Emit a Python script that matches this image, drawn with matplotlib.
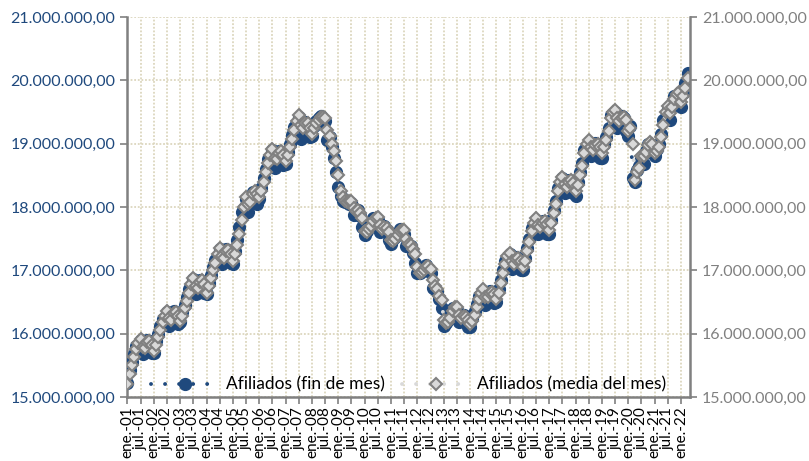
import numpy as np
import matplotlib.pyplot as plt
from matplotlib.ticker import FuncFormatter, MultipleLocator

plt.rcParams['font.family'] = ['Lato', 'DejaVu Sans']

# afiliados (millones), mensual ene-01 .. abr-22
media_mes = [
    15.20, 15.36, 15.50, 15.63, 15.75, 15.86, 15.92, 15.79, 15.78, 15.87, 15.89, 15.82,  # 2001
    15.72, 15.82, 15.95, 16.06, 16.18, 16.28, 16.36, 16.24, 16.22, 16.32, 16.34, 16.28,  # 2002
    16.20, 16.28, 16.40, 16.52, 16.65, 16.78, 16.88, 16.75, 16.72, 16.82, 16.84, 16.78,  # 2003
    16.65, 16.75, 16.88, 17.00, 17.12, 17.25, 17.35, 17.22, 17.20, 17.30, 17.32, 17.26,  # 2004
    17.15, 17.25, 17.40, 17.58, 17.80, 18.00, 18.15, 18.05, 18.08, 18.20, 18.25, 18.20,  # 2005
    18.15, 18.25, 18.40, 18.55, 18.70, 18.82, 18.92, 18.78, 18.76, 18.86, 18.88, 18.82,  # 2006
    18.72, 18.82, 18.95, 19.08, 19.22, 19.35, 19.46, 19.30, 19.25, 19.32, 19.33, 19.25,  # 2007
    19.15, 19.25, 19.32, 19.37, 19.42, 19.42, 19.40, 19.22, 19.12, 19.00, 18.88, 18.72,  # 2008
    18.50, 18.25, 18.15, 18.10, 18.08, 18.10, 18.10, 17.98, 17.93, 17.95, 17.90, 17.82,  # 2009
    17.62, 17.60, 17.65, 17.70, 17.78, 17.82, 17.84, 17.72, 17.65, 17.68, 17.67, 17.60,  # 2010
    17.48, 17.47, 17.50, 17.55, 17.62, 17.64, 17.63, 17.50, 17.42, 17.40, 17.33, 17.25,  # 2011
    17.05, 16.95, 16.97, 17.00, 17.05, 17.07, 17.02, 16.85, 16.75, 16.70, 16.60, 16.53,  # 2012
    16.22, 16.17, 16.19, 16.25, 16.35, 16.42, 16.42, 16.30, 16.25, 16.28, 16.27, 16.22,  # 2013
    16.15, 16.20, 16.30, 16.42, 16.55, 16.65, 16.70, 16.58, 16.58, 16.64, 16.66, 16.62,  # 2014
    16.55, 16.65, 16.80, 16.95, 17.10, 17.22, 17.27, 17.15, 17.10, 17.18, 17.20, 17.15,  # 2015
    17.05, 17.15, 17.30, 17.45, 17.62, 17.75, 17.82, 17.72, 17.68, 17.75, 17.78, 17.73,  # 2016
    17.64, 17.74, 17.90, 18.05, 18.25, 18.40, 18.48, 18.36, 18.32, 18.40, 18.42, 18.38,  # 2017
    18.25, 18.35, 18.50, 18.65, 18.85, 19.00, 19.05, 18.95, 18.90, 18.98, 19.00, 18.95,  # 2018
    18.85, 18.95, 19.05, 19.20, 19.40, 19.50, 19.53, 19.40, 19.35, 19.40, 19.42, 19.38,  # 2019
    19.20, 19.25, 19.00, 18.42, 18.55, 18.62, 18.80, 18.80, 18.87, 18.98, 19.02, 19.00,  # 2020
    18.85, 18.88, 18.95, 19.10, 19.30, 19.50, 19.60, 19.48, 19.58, 19.70, 19.78, 19.82,  # 2021
    19.65, 19.75, 19.88, 20.03,                                                          # 2022
]

fin_mes = [
    15.22, 15.42, 15.55, 15.68, 15.80, 15.80, 15.90, 15.68, 15.80, 15.90, 15.88, 15.70,
    15.70, 15.88, 16.00, 16.12, 16.23, 16.22, 16.34, 16.12, 16.22, 16.35, 16.33, 16.15,
    16.18, 16.34, 16.45, 16.58, 16.70, 16.72, 16.86, 16.62, 16.73, 16.85, 16.83, 16.64,
    16.62, 16.80, 16.93, 17.05, 17.17, 17.20, 17.33, 17.10, 17.21, 17.33, 17.31, 17.12,
    17.10, 17.30, 17.48, 17.68, 17.92, 17.98, 18.12, 17.92, 18.10, 18.23, 18.24, 18.05,
    18.12, 18.30, 18.45, 18.60, 18.75, 18.76, 18.90, 18.62, 18.77, 18.89, 18.87, 18.66,
    18.68, 18.87, 19.00, 19.13, 19.27, 19.28, 19.42, 19.08, 19.25, 19.34, 19.30, 19.10,
    19.12, 19.28, 19.35, 19.40, 19.44, 19.34, 19.35, 19.05, 19.10, 18.95, 18.78, 18.55,
    18.32, 18.18, 18.10, 18.08, 18.09, 18.05, 18.07, 17.88, 17.93, 17.96, 17.86, 17.68,
    17.55, 17.62, 17.68, 17.74, 17.82, 17.78, 17.80, 17.60, 17.64, 17.70, 17.64, 17.48,
    17.42, 17.49, 17.53, 17.58, 17.66, 17.58, 17.58, 17.38, 17.40, 17.38, 17.28, 17.12,
    16.95, 16.96, 16.99, 17.02, 17.08, 17.00, 16.95, 16.72, 16.70, 16.66, 16.54, 16.40,
    16.12, 16.17, 16.21, 16.29, 16.40, 16.36, 16.38, 16.18, 16.24, 16.30, 16.24, 16.10,
    16.10, 16.25, 16.35, 16.47, 16.60, 16.60, 16.68, 16.46, 16.58, 16.67, 16.65, 16.48,
    16.50, 16.70, 16.85, 17.00, 17.15, 17.16, 17.25, 17.02, 17.10, 17.21, 17.19, 17.00,
    17.00, 17.20, 17.35, 17.50, 17.67, 17.68, 17.80, 17.58, 17.68, 17.78, 17.77, 17.58,
    17.58, 17.79, 17.95, 18.10, 18.30, 18.33, 18.45, 18.22, 18.32, 18.43, 18.41, 18.22,
    18.18, 18.40, 18.55, 18.70, 18.90, 18.92, 19.02, 18.80, 18.90, 19.01, 18.98, 18.78,
    18.78, 19.00, 19.10, 19.25, 19.45, 19.42, 19.50, 19.25, 19.35, 19.43, 19.40, 19.20,
    19.12, 19.28, 18.45, 18.40, 18.58, 18.65, 18.78, 18.68, 18.88, 19.00, 18.98, 18.85,
    18.80, 18.92, 19.00, 19.15, 19.38, 19.42, 19.55, 19.38, 19.60, 19.75, 19.76, 19.62,
    19.58, 19.80, 19.95, 20.11,
]

etiquetas = [
    'ene.-01', 'jul.-01', 'ene.-02', 'jul.-02', 'ene.-03', 'jul.-03', 'ene.-04', 'jul.-04',
    'ene.-05', 'jul.-05', 'ene.-06', 'jul.-06', 'ene.-07', 'jul.-07', 'ene.-08', 'jul.-08',
    'ene.-09', 'jul.-09', 'ene.-10', 'jul.-10', 'ene.-11', 'jul.-11', 'ene.-12', 'jul.-12',
    'ene.-13', 'jul.-13', 'ene.-14', 'jul.-14', 'ene.-15', 'jul.-15', 'ene.-16', 'jul.-16',
    'ene.-17', 'jul.-17', 'ene.-18', 'jul.-18', 'ene.-19', 'jul.-19', 'ene.-20', 'jul.-20',
    'ene.-21', 'jul.-21', 'ene.-22',
]

azul = '#1F497D'
gris = '#808080'
grid_col = '#DCD7BE'

x = np.arange(len(media_mes))
media = np.array(media_mes) * 1e6
fin = np.array(fin_mes) * 1e6


def fmt(v, pos):
    s = f'{v:,.2f}'
    return s.replace(',', '#').replace('.', ',').replace('#', '.')


fig = plt.figure(figsize=(8.09, 4.61), dpi=100)
ax = fig.add_axes([127 / 809, 64 / 461, 563 / 809, 380 / 461])

ax.plot(x, fin, color=azul, lw=2.8, linestyle=(0, (0.01, 3.6)), dash_capstyle='round',
        marker='o', markersize=8.5, markerfacecolor=azul, markeredgecolor=azul,
        label='Afiliados (fin de mes)', zorder=3)
ax.plot(x, media, color='#D9D9D9', lw=2.8, linestyle=(0, (0.01, 3.6)), dash_capstyle='round',
        marker='D', markersize=6.0, markerfacecolor='#D9D9D9', markeredgecolor=gris,
        markeredgewidth=1.5, label='Afiliados (media del mes)', zorder=4)

ax.set_xlim(-0.2, 256.1)
ax.set_ylim(15e6, 21e6)
ax.set_xticks(np.arange(0, len(etiquetas) * 6, 6))
ax.set_xticklabels(etiquetas, rotation=90, fontsize=11)
ax.yaxis.set_major_locator(MultipleLocator(1e6))
ax.yaxis.set_major_formatter(FuncFormatter(fmt))
ax.tick_params(axis='y', colors=gris, labelcolor=azul, labelsize=11.5, length=5, width=1.2)
ax.tick_params(axis='x', colors=gris, labelcolor='black', length=5, width=1.2, pad=2)
ax.grid(True, color=grid_col, linestyle=(0, (1, 1)), lw=1.3)
ax.set_axisbelow(True)

for s in ['top', 'right']:
    ax.spines[s].set_visible(False)
for s in ['left', 'bottom']:
    ax.spines[s].set_color(gris)
    ax.spines[s].set_linewidth(1.8)

ax2 = ax.twinx()
ax2.set_ylim(15e6, 21e6)
ax2.yaxis.set_major_locator(MultipleLocator(1e6))
ax2.yaxis.set_major_formatter(FuncFormatter(fmt))
ax2.tick_params(axis='y', colors=gris, labelcolor=gris, labelsize=11.5, length=5, width=1.2)
for s in ['top', 'left', 'bottom']:
    ax2.spines[s].set_visible(False)
ax2.spines['right'].set_color(gris)
ax2.spines['right'].set_linewidth(1.8)

ax2.legend(handles=ax.get_lines(), loc='lower center', bbox_to_anchor=(0.50, -0.03),
           ncol=2, frameon=False, fontsize=12.5, handlelength=3.9, numpoints=1,
           columnspacing=1.0, handletextpad=0.4)

fig.savefig('out.png', dpi=100)
